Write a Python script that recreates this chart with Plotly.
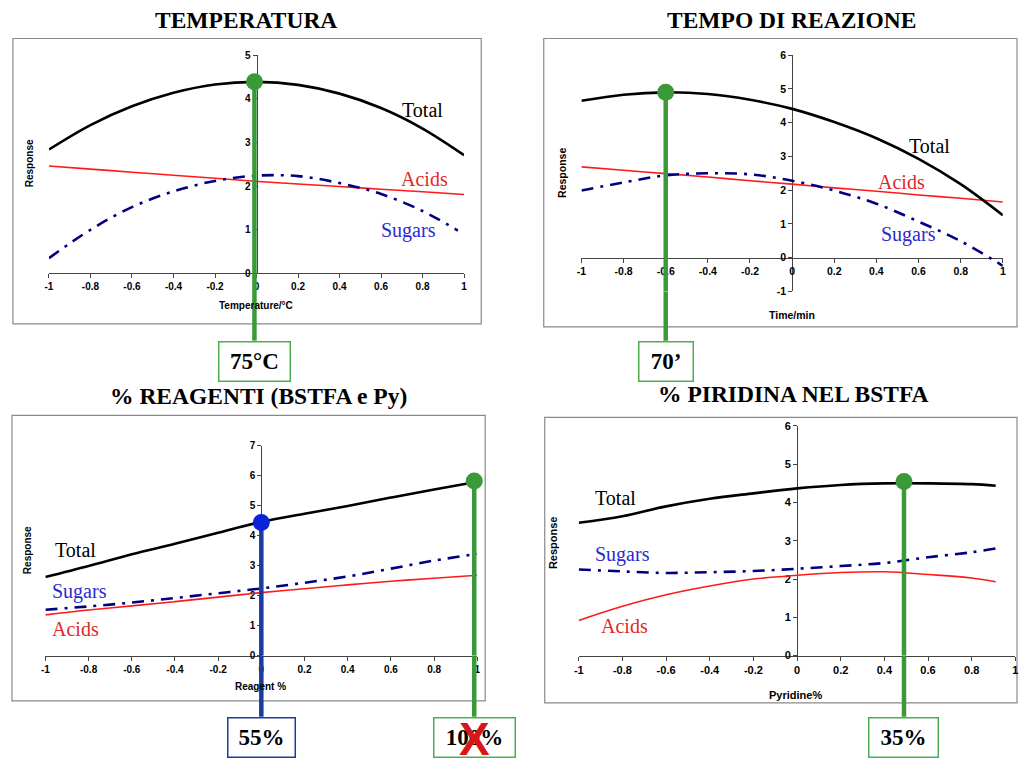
import plotly.graph_objects as go

W, H = 1021, 763

# ---------------- data ----------------
x_ticks = [-1, -0.8, -0.6, -0.4, -0.2, 0, 0.2, 0.4, 0.6, 0.8, 1]
x_ticktext = ["-1", "-0.8", "-0.6", "-0.4", "-0.2", "0", "0.2", "0.4", "0.6", "0.8", "1"]

titles = ["TEMPERATURA", "TEMPO DI REAZIONE", "% REAGENTI (BSTFA e Py)", "% PIRIDINA NEL BSTFA"]
x_titles = ["Temperature/°C", "Time/min", "Reagent %", "Pyridine%"]
y_title = "Response"

# Panel 1 - temperature
temp_x = [-1, -0.8, -0.6, -0.4, -0.2, 0, 0.2, 0.4, 0.6, 0.8, 1]
temp_total = [2.84, 3.40, 3.83, 4.14, 4.33, 4.39, 4.32, 4.12, 3.79, 3.32, 2.71]
temp_acids = [2.46, 2.39, 2.32, 2.25, 2.18, 2.11, 2.05, 1.99, 1.93, 1.87, 1.81]
temp_sugars_x = [-1, -0.8, -0.6, -0.4, -0.2, 0, 0.2, 0.4, 0.6, 0.8, 0.97]
temp_sugars = [0.35, 1.00, 1.52, 1.88, 2.12, 2.24, 2.23, 2.07, 1.82, 1.43, 0.98]
temp_y_ticks = [0, 1, 2, 3, 4, 5]

# Panel 2 - reaction time
time_x = [-1, -0.8, -0.6, -0.4, -0.2, 0, 0.2, 0.4, 0.6, 0.8, 1]
time_total = [4.65, 4.83, 4.90, 4.85, 4.68, 4.41, 4.02, 3.54, 2.93, 2.18, 1.26]
time_acids = [2.69, 2.59, 2.49, 2.39, 2.28, 2.18, 2.07, 1.97, 1.86, 1.76, 1.65]
time_sugars = [1.99, 2.23, 2.44, 2.50, 2.47, 2.28, 1.99, 1.60, 1.07, 0.49, -0.24]
time_y_ticks = [-1, 0, 1, 2, 3, 4, 5, 6]

# Panel 3 - reagent %
reag_x = [-1, -0.8, -0.6, -0.4, -0.2, 0, 0.2, 0.4, 0.6, 0.8, 1]
reag_total = [2.62, 2.99, 3.38, 3.73, 4.10, 4.46, 4.73, 4.99, 5.27, 5.54, 5.80]
reag_sugars = [1.53, 1.64, 1.77, 1.92, 2.08, 2.24, 2.43, 2.64, 2.90, 3.17, 3.39]
reag_acids = [1.36, 1.52, 1.66, 1.80, 1.95, 2.10, 2.23, 2.36, 2.48, 2.58, 2.68]
reag_y_ticks = [0, 1, 2, 3, 4, 5, 6, 7]

# Panel 4 - pyridine %
pyr_x = [-1, -0.8, -0.6, -0.4, -0.2, 0, 0.2, 0.4, 0.6, 0.8, 0.91]
pyr_total = [3.47, 3.64, 3.90, 4.10, 4.24, 4.37, 4.46, 4.50, 4.50, 4.48, 4.44]
pyr_sugars = [2.25, 2.20, 2.16, 2.18, 2.21, 2.27, 2.34, 2.42, 2.57, 2.70, 2.80]
pyr_acids = [0.92, 1.29, 1.59, 1.82, 2.00, 2.10, 2.17, 2.19, 2.12, 2.03, 1.93]
pyr_y_ticks = [0, 1, 2, 3, 4, 5, 6]

# Optimum points: (panel, x, response, label, colour-key)
opt_points = [
    (0, -0.01, 4.39, "75°C", "green"),
    (1, -0.6, 4.90, "70’", "green"),
    (2, 0.0, 4.44, "55%", "blue"),
    (2, 0.986, 5.82, "100%", "green"),
    (3, 0.49, 4.55, "35%", "green"),
]

# series label positions (data units) per panel: Total, Acids, Sugars
series_labels = [
    [("Total", 0.80, 3.74), ("Acids", 0.81, 2.16), ("Sugars", 0.73, 0.99)],
    [("Total", 0.65, 3.31), ("Acids", 0.52, 2.23), ("Sugars", 0.55, 0.69)],
    [("Total", -0.86, 3.51), ("Acids", -0.86, 0.89), ("Sugars", -0.84, 2.13)],
    [("Total", -0.83, 4.11), ("Acids", -0.79, 0.77), ("Sugars", -0.80, 2.65)],
]

# ---------------- layout geometry (pixels) ----------------
panels = [
    dict(px=(44.3, 462.7), py=(50, 271.7), yr=(0, 5), frame=(8, 33, 480, 323),
         title_xy=(243, 14), xt_xy=(253, 304), yt_xy=(25, 160), lab_size=10, box_top=340),
    dict(px=(581, 1005.7), py=(50, 290), yr=(-1, 6), frame=(543, 33, 1020, 326),
         title_xy=(793, 14), xt_xy=(793, 314), yt_xy=(562, 170), lab_size=10.5, box_top=340),
    dict(px=(40.7, 476), py=(446.7, 660), yr=(0, 7), frame=(7, 416, 484, 706),
         title_xy=(255, 396), xt_xy=(258, 691), yt_xy=(22, 553), lab_size=10, box_top=722),
    dict(px=(578.3, 1018.3), py=(426.7, 660), yr=(0, 6), frame=(544, 418, 1020, 708),
         title_xy=(795, 394), xt_xy=(797, 700), yt_xy=(553, 545), lab_size=11, box_top=722),
]
series = [
    (temp_x, temp_total, temp_acids, temp_sugars_x, temp_sugars, temp_y_ticks),
    (time_x, time_total, time_acids, time_x, time_sugars, time_y_ticks),
    (reag_x, reag_total, reag_acids, reag_x, reag_sugars, reag_y_ticks),
    (pyr_x, pyr_total, pyr_acids, pyr_x, pyr_sugars, pyr_y_ticks),
]

def fx(p):
    return p / W

def fy(p):
    return 1 - p / H

SERIF = "Liberation Serif"
SANS = "Liberation Sans"
C_TOTAL = "black"
C_ACIDS = "#ff1a1a"
C_SUGARS = "#000080"
C_SUG_TXT = "#2a2ad0"
C_ACID_TXT = "#e02828"
GREEN = "#3a9a3a"
BLUE_DOT = "#0a22d8"
BLUE_LINE = "#1a3c9c"
AXC = "#444444"

fig = go.Figure()
shapes = []
annotations = []

for i, (p, s) in enumerate(zip(panels, series)):
    n = "" if i == 0 else str(i + 1)
    xa, ya = "x" + n, "y" + n
    xs, tot, aci, xs_s, sug, yt = s
    xd = [fx(p["px"][0]), fx(p["px"][1])]
    yd = [fy(p["py"][1]), fy(p["py"][0])]
    y0, y1 = p["yr"]
    xpos = yd[0] + (0 - y0) / (y1 - y0) * (yd[1] - yd[0])
    ypos = xd[0] + (0 - (-1)) / 2 * (xd[1] - xd[0])
    tickfont = dict(family=SANS, size=p["lab_size"], color="black", weight="bold")
    fig.update_layout(**{
        "xaxis" + n: dict(domain=xd, range=[-1, 1], anchor="free", position=xpos,
                          showline=True, linecolor=AXC, linewidth=1, ticks="outside",
                          ticklen=4, tickcolor=AXC, tickvals=x_ticks, ticktext=x_ticktext,
                          tickfont=tickfont, showgrid=False, zeroline=False,
                          layer="below traces", fixedrange=True),
        "yaxis" + n: dict(domain=yd, range=[y0, y1], anchor="free", position=ypos,
                          showline=True, linecolor=AXC, linewidth=1, ticks="outside",
                          ticklen=4, tickcolor=AXC, tickvals=yt,
                          ticktext=[str(v) for v in yt],
                          tickfont=tickfont, showgrid=False, zeroline=False,
                          layer="below traces", fixedrange=True),
    })
    # frame
    fl, ft, fr, fb = p["frame"]
    shapes.append(dict(type="rect", xref="paper", yref="paper", x0=fx(fl), x1=fx(fr),
                       y0=fy(fb), y1=fy(ft), line=dict(color="#8a8a8a", width=1.2),
                       layer="below"))
    # curves
    fig.add_trace(go.Scatter(x=xs, y=aci, mode="lines", xaxis=xa, yaxis=ya,
                             line=dict(color=C_ACIDS, width=1.6, shape="spline"),
                             hoverinfo="skip", showlegend=False))
    fig.add_trace(go.Scatter(x=xs_s, y=sug, mode="lines", xaxis=xa, yaxis=ya,
                             line=dict(color=C_SUGARS, width=2.6, shape="spline",
                                       dash="12px,7px,3px,7px"),
                             hoverinfo="skip", showlegend=False))
    fig.add_trace(go.Scatter(x=xs, y=tot, mode="lines", xaxis=xa, yaxis=ya,
                             line=dict(color=C_TOTAL, width=2.6, shape="spline",
                                       smoothing=1.0),
                             hoverinfo="skip", showlegend=False))
    # titles
    annotations.append(dict(text=titles[i], xref="paper", yref="paper",
                            x=fx(p["title_xy"][0]), y=fy(p["title_xy"][1]),
                            xanchor="center", yanchor="middle", showarrow=False,
                            font=dict(family=SERIF, size=23.5, color="black", weight="bold")))
    annotations.append(dict(text=x_titles[i], xref="paper", yref="paper",
                            x=fx(p["xt_xy"][0]), y=fy(p["xt_xy"][1]),
                            xanchor="center", yanchor="middle", showarrow=False,
                            font=dict(family=SANS, size=p["lab_size"], color="black",
                                      weight="bold")))
    annotations.append(dict(text=y_title, xref="paper", yref="paper", textangle=-90,
                            x=fx(p["yt_xy"][0]), y=fy(p["yt_xy"][1]),
                            xanchor="center", yanchor="middle", showarrow=False,
                            font=dict(family=SANS, size=p["lab_size"], color="black",
                                      weight="bold")))
    # series labels
    for name, lx, ly in series_labels[i]:
        col = {"Total": "black", "Acids": C_ACID_TXT, "Sugars": C_SUG_TXT}[name]
        annotations.append(dict(text=name, xref=xa, yref=ya, x=lx, y=ly,
                                xanchor="center", yanchor="middle", showarrow=False,
                                font=dict(family=SERIF, size=20, color=col)))

# optimum markers, guide lines and value boxes
for (pi, ox, oy, lab, ck) in opt_points:
    p = panels[pi]
    n = "" if pi == 0 else str(pi + 1)
    xa, ya = "x" + n, "y" + n
    line_c = GREEN if ck == "green" else BLUE_LINE
    dot_c = GREEN if ck == "green" else BLUE_DOT
    # in-plot part of the guide line
    fig.add_trace(go.Scatter(x=[ox, ox], y=[oy, p["yr"][0]], mode="lines",
                             xaxis=xa, yaxis=ya, line=dict(color=line_c, width=4.5),
                             hoverinfo="skip", showlegend=False))
    # below-plot part of guide line
    shapes.append(dict(type="line", xref=xa, yref="paper", x0=ox, x1=ox,
                       y0=fy(p["py"][1]), y1=fy(p["box_top"]),
                       line=dict(color=line_c, width=4.5), layer="above"))
    fig.add_trace(go.Scatter(x=[ox], y=[oy], mode="markers", xaxis=xa, yaxis=ya,
                             marker=dict(color=dot_c, size=17, line=dict(width=0)),
                             cliponaxis=False, hoverinfo="skip", showlegend=False))
    bw = {"75°C": 70, "70’": 53, "55%": 66, "100%": 80, "35%": 68}[lab]
    annotations.append(dict(text="<b>" + lab + "</b>", xref=xa, yref="paper", x=ox,
                            y=fy(p["box_top"]), xanchor="center", yanchor="top",
                            showarrow=False, width=bw, height=38, align="center",
                            valign="middle", bgcolor="white",
                            bordercolor=line_c if ck == "blue" else "#4caf4c",
                            borderwidth=1.5, borderpad=0,
                            font=dict(family=SERIF, size=23, color="black")))
    if lab == "100%":
        annotations.append(dict(text="<b>X</b>", xref=xa, yref="paper", x=ox,
                                y=fy(745), xanchor="center", yanchor="middle",
                                showarrow=False,
                                font=dict(family=SANS, size=46, color="#d81818")))

fig.update_layout(width=W, height=H, margin=dict(l=0, r=0, t=0, b=0),
                  paper_bgcolor="white", plot_bgcolor="rgba(0,0,0,0)",
                  shapes=shapes, annotations=annotations, showlegend=False)

fig.write_html("out.html")
